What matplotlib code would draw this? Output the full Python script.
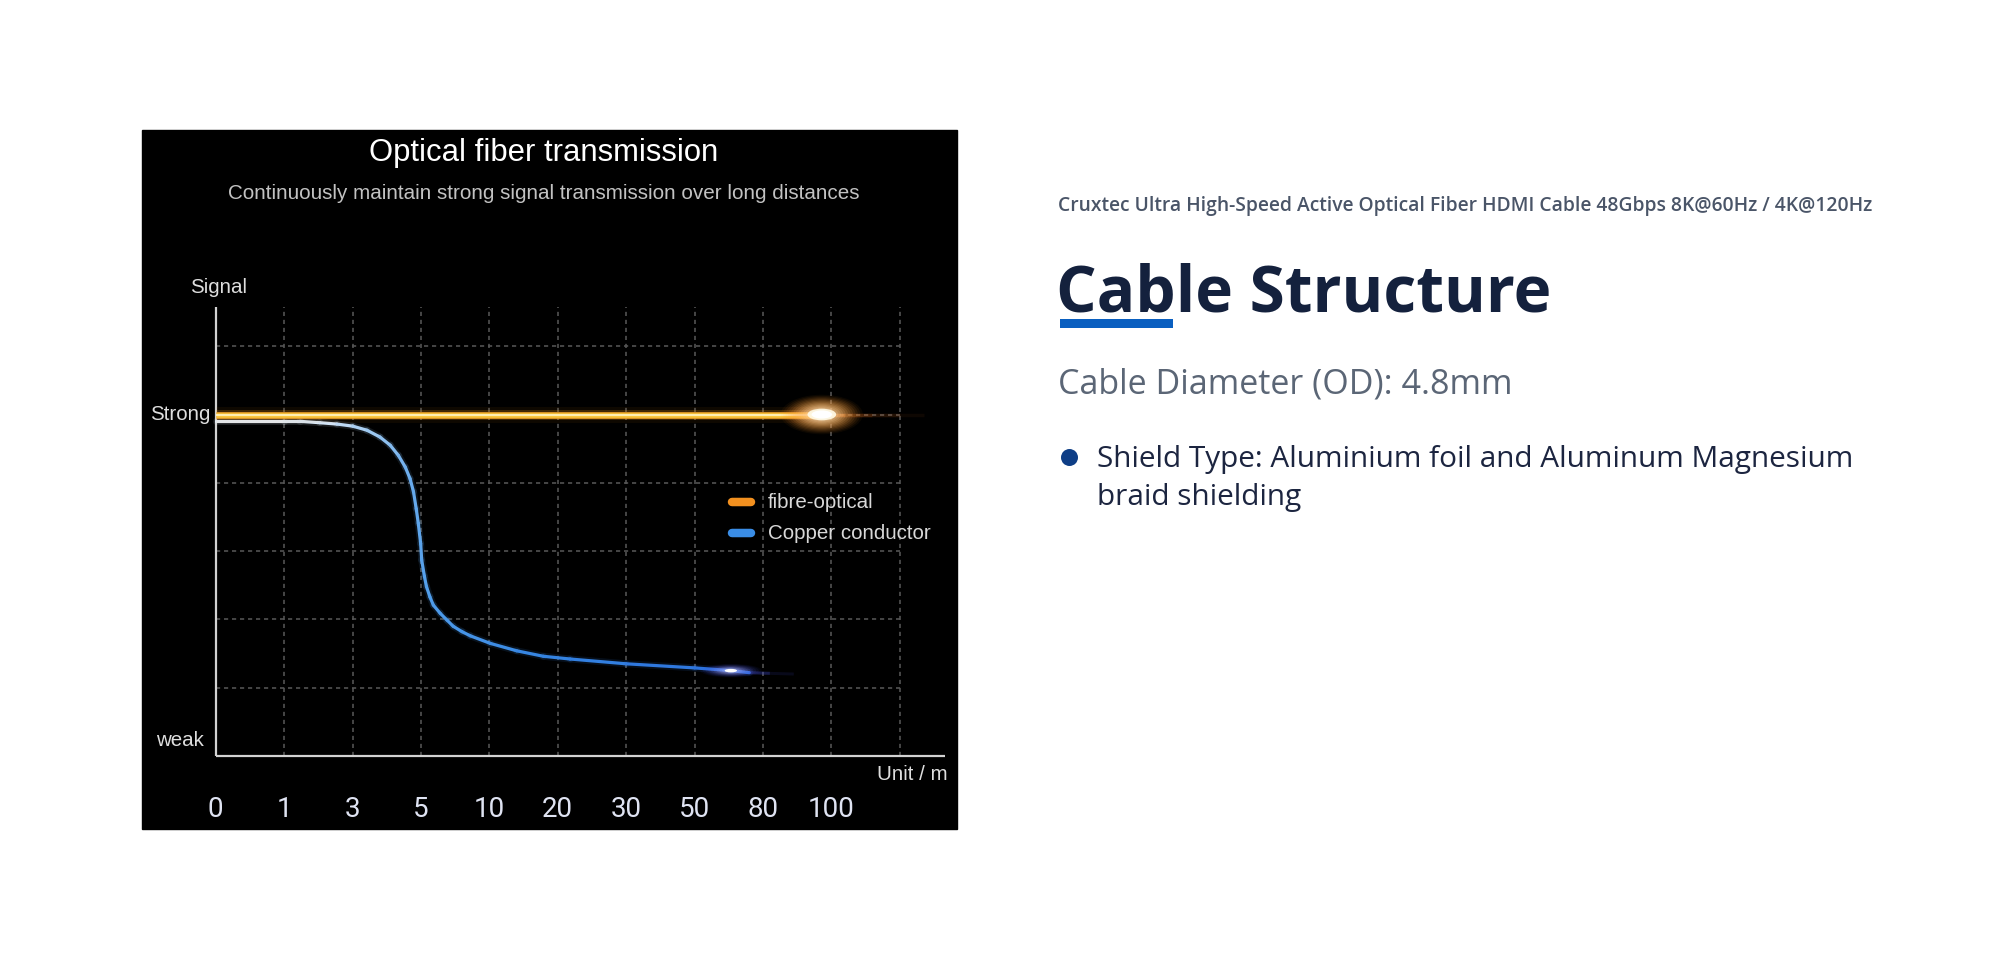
import matplotlib
matplotlib.use("Agg")
import matplotlib.pyplot as plt
from matplotlib.collections import LineCollection
from matplotlib.patches import Ellipse, Rectangle, Circle
from matplotlib.colors import LinearSegmentedColormap, to_rgba, to_rgb
import numpy as np

# ---------------- data ----------------
x_tick_labels = ["0", "1", "3", "5", "10", "20", "30", "50", "80", "100"]
y_label_strong = "Strong"
y_label_weak = "weak"

fiber_x = [0.0, 8.86]
fiber_y = [5.0, 5.0]

copper_x = [0.0, 1.0, 1.23, 1.52, 1.77, 2.0, 2.21, 2.40, 2.55, 2.67, 2.77, 2.84, 2.89,
            2.93, 2.96, 2.995, 3.01, 3.05, 3.08, 3.13, 3.18, 3.28, 3.38, 3.47, 3.60,
            3.72, 4.01, 4.40, 4.79, 5.18, 6.0, 7.0, 7.53, 7.80]
copper_y = [4.90, 4.90, 4.90, 4.88, 4.86, 4.83, 4.77, 4.67, 4.55, 4.40, 4.23, 4.06, 3.87,
            3.62, 3.41, 3.11, 2.87, 2.63, 2.48, 2.33, 2.21, 2.09, 1.99, 1.90, 1.82,
            1.76, 1.65, 1.54, 1.46, 1.42, 1.35, 1.29, 1.25, 1.22]

legend_labels = ["fibre-optical", "Copper conductor"]

chart_title = "Optical fiber transmission"
chart_subtitle = "Continuously maintain strong signal transmission over long distances"

page_header = "Cruxtec Ultra High-Speed Active Optical Fiber HDMI Cable 48Gbps 8K@60Hz / 4K@120Hz"
page_title = "Cable Structure"
page_diameter = "Cable Diameter (OD): 4.8mm"
page_bullet = ["Shield Type: Aluminium foil and Aluminum Magnesium", "braid shielding"]

# ---------------- figure ----------------
W, H = 2000, 980
fig = plt.figure(figsize=(20, 9.8), dpi=100, facecolor="white")
bg = fig.add_axes([0, 0, 1, 1])
bg.set_xlim(0, W)
bg.set_ylim(H, 0)
bg.axis("off")

PX0, PX1, PY0, PY1 = 141.6, 956.6, 130, 829
bg.add_patch(Rectangle((PX0, PY0), PX1 - PX0, PY1 - PY0, color="black", zorder=0))

ARIAL = ["Liberation Sans", "DejaVu Sans"]
bg.text(543.6, 153, chart_title, ha="center", va="center", fontsize=22.3,
        color="white", family=ARIAL)
bg.text(544, 193.5, chart_subtitle, ha="center", va="center", fontsize=14.9,
        color="#c2c2c2", family=ARIAL)

ax = fig.add_axes([PX0 / W, 1 - PY1 / H, (PX1 - PX0) / W, (PY1 - PY0) / H])
X0px, DX = 215.8, 68.4
Y0px, DY = 756.0, 68.3
ax.set_xlim((PX0 - X0px) / DX, (PX1 - X0px) / DX)
ax.set_ylim((Y0px - PY1) / DY, (Y0px - PY0) / DY)
ax.axis("off")

PT = 1 / 1.3889  # px -> pt

# grid
grid_c = "#565656"
for yv in range(1, 7):
    ax.plot([0, 10], [yv, yv], color=grid_c, lw=1.6 * PT, dashes=(2.6, 2.4), zorder=1)
for xv in range(1, 11):
    ax.plot([xv, xv], [0, 6.57], color=grid_c, lw=1.6 * PT, dashes=(2.6, 2.4), zorder=1)

# axes lines
ax.plot([0, 0], [0, 6.57], color="#d2d2d2", lw=2.2 * PT, zorder=2, solid_capstyle="butt")
ax.plot([0, 10.66], [0, 0], color="#d2d2d2", lw=2.2 * PT, zorder=2, solid_capstyle="butt")

# ---- fiber line with glow ----
for lw, a, c in [(16, 0.06, "#ff8a00"), (10, 0.2, "#ff9f1a"), (7, 0.85, "#eea229"),
                 (4.6, 1.0, "#fbc83f"), (1.8, 1.0, "#fff2c0")]:
    ax.plot(fiber_x, fiber_y, color=c, lw=lw * PT, alpha=a, solid_capstyle="butt", zorder=4)
# fading tail after hotspot
tail_x = [fiber_x[-1], 9.2, 9.6, 10.0, 10.35]
tail_a = [0.6, 0.35, 0.18, 0.07]
segs = [[(tail_x[i], fiber_y[-1]), (tail_x[i + 1], fiber_y[-1])] for i in range(len(tail_a))]
ax.add_collection(LineCollection(segs, colors=[to_rgba("#c8641e", a) for a in tail_a],
                                 linewidths=3.5 * PT, zorder=4))
# hotspot: layered soft ellipses
hx, hy = fiber_x[-1], fiber_y[-1]
c_out, c_in = np.array(to_rgb("#ff8c1a")), np.array(to_rgb("#fff6dc"))
n = 14
for k in range(n):
    s = 1 - k / n
    col = c_out * s + c_in * (1 - s)
    ax.add_patch(Ellipse((hx, hy), 1.0 * s + 0.2, 0.48 * s + 0.1, color=col,
                         alpha=0.05 + 0.22 * (1 - s), lw=0, zorder=5))
ax.add_patch(Ellipse((hx, hy), 0.42, 0.17, color="#fffbe8", alpha=0.9, lw=0, zorder=5))
ax.add_patch(Ellipse((hx, hy), 0.3, 0.12, color="white", alpha=1.0, lw=0, zorder=5))

# ---- copper line with gradient ----
cmap = LinearSegmentedColormap.from_list(
    "cu", [(0.0, "#e9eff7"), (0.2, "#d6e6f6"), (0.33, "#86bcef"), (0.4, "#4f9cea"),
           (0.6, "#3585e2"), (1.0, "#2a6fdc")])
pts = np.column_stack([copper_x, copper_y])
csegs = np.stack([pts[:-1], pts[1:]], axis=1)
mid = (np.array(copper_x[:-1]) + np.array(copper_x[1:])) / 2 / 7.8
ax.add_collection(LineCollection(csegs, colors=cmap(mid), linewidths=7 * PT, alpha=0.12,
                                 capstyle="round", joinstyle="round", zorder=3))
ax.add_collection(LineCollection(csegs, colors=cmap(mid), linewidths=3.2 * PT,
                                 capstyle="round", joinstyle="round", zorder=3))
# copper end hotspot & tail
cx, cy = copper_x[-2], copper_y[-2]
ctail_x = [copper_x[-1], 8.1, 8.45]
ctail_a = [0.35, 0.12]
csegs2 = [[(ctail_x[i], copper_y[-1] - 0.01 * i), (ctail_x[i + 1], copper_y[-1] - 0.01 * (i + 1))]
          for i in range(len(ctail_a))]
ax.add_collection(LineCollection(csegs2, colors=[to_rgba("#4450d8", a) for a in ctail_a],
                                 linewidths=3 * PT, zorder=3))
b_out, b_in = np.array(to_rgb("#3a46e0")), np.array(to_rgb("#e6eaff"))
for k in range(10):
    s = 1 - k / 10
    col = b_out * s + b_in * (1 - s)
    ax.add_patch(Ellipse((cx, cy), 0.8 * s + 0.1, 0.16 * s + 0.04, color=col,
                         alpha=0.06 + 0.15 * (1 - s), lw=0, zorder=5))
ax.add_patch(Ellipse((cx, cy), 0.18, 0.05, color="white", alpha=1.0, lw=0, zorder=5))

# ---- legend ----
leg_y = [3.715, 3.265]
leg_c = ["#f2901f", "#3a8de6"]
for yy, c, lab in zip(leg_y, leg_c, legend_labels):
    ax.plot([7.55, 7.82], [yy, yy], color=c, lw=8.5 * PT, solid_capstyle="round", zorder=6)
    ax.text(8.07, yy, lab, ha="left", va="center", fontsize=14.8, color="#d8d8d8",
            family=ARIAL, zorder=6)

# ---- axis labels ----
lab_c = "#dedede"
LFS = 14.8
ax.text(0.047, 6.86, "Signal", ha="center", va="center", fontsize=LFS, color=lab_c, family=ARIAL)
ax.text(-0.085, 5.0, y_label_strong, ha="right", va="center", fontsize=LFS, color=lab_c, family=ARIAL)
ax.text(-0.17, 0.224, y_label_weak, ha="right", va="center", fontsize=LFS, color=lab_c, family=ARIAL)
ax.text(10.70, -0.264, "Unit / m", ha="right", va="center", fontsize=LFS, color=lab_c, family=ARIAL)

for i, t in enumerate(x_tick_labels):
    ax.text(i, -0.776, t, ha="center", va="center", fontsize=20, color="#dfe3f2",
            family=["Roboto", "DejaVu Sans"])

# ---------------- right-side text ----------------
SANS = ["Open Sans", "DejaVu Sans"]
bg.text(1058, 210.7, page_header, fontsize=13.9, color="#4a5568", family=SANS,
        weight="semibold", va="baseline", ha="left")
bg.text(1056, 311.7, page_title, fontsize=46, color="#14213d", family=SANS,
        weight="bold", va="baseline", ha="left")
bg.add_patch(Rectangle((1060, 319), 113, 8.7, color="#0a5fc0", lw=0))
bg.text(1058, 393, page_diameter, fontsize=24.5, color="#5b6676", family=SANS,
        va="baseline", ha="left")
bg.add_patch(Circle((1069.5, 457.5), 8.5, color="#0e3e86", lw=0))
bg.text(1097, 466.7, page_bullet[0], fontsize=21.4, color="#1c2540", family=SANS,
        va="baseline", ha="left")
bg.text(1097, 505, page_bullet[1], fontsize=21.4, color="#1c2540", family=SANS,
        va="baseline", ha="left")

fig.savefig("out.png", dpi=100, facecolor="white")
